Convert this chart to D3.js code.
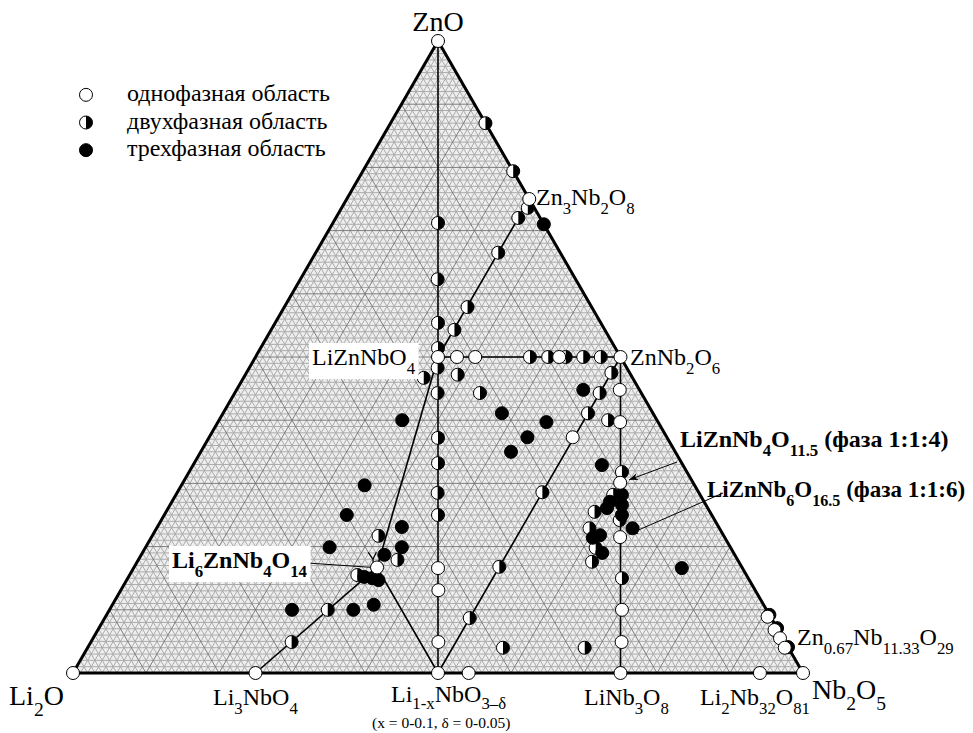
<!DOCTYPE html>
<html lang="ru">
<head>
<meta charset="UTF-8">
<title>Li2O - ZnO - Nb2O5</title>
<script src="https://d3js.org/d3.v7.min.js"></script>
<style>
  body { margin: 0; background: #fff; }
  svg text { font-family: "Liberation Serif", "DejaVu Serif", "Times New Roman", serif; fill: #000; }
</style>
</head>
<body>
<svg id="chart" width="973" height="733"></svg>
<script>
// compositions in mol %: [Li2O, ZnO, Nb2O5]
var singlePhase = [
  [100, 0, 0], [0, 0, 100], [0, 100, 0],
  [75, 0, 25], [50, 0, 50], [45.8, 0, 54.2], [25, 0, 75], [5.9, 0, 94.1],
  [0, 75, 25], [0, 50, 50], [25, 50, 25], [50, 16.7, 33.3],
  [10, 30.1, 59.9], [14.3, 21.5, 64.2],
  [22.4, 50, 27.6], [19.9, 50, 30.1], [8.4, 50, 41.6],
  [2.7, 44.8, 52.5], [5.2, 39.7, 55.1],
  [41.7, 16.6, 41.7], [43.4, 13.1, 43.5], [47.5, 4.9, 47.6],
  [19.8, 10, 70.2], [22.4, 4.9, 72.7], [12.9, 37.3, 49.8],
  [0.4, 8.9, 90.7], [0.5, 6.8, 92.7], [0.4, 5.5, 94.1], [0.5, 4.0, 95.5]
];
var twoPhase = [
  [0, 87, 13], [0, 79.4, 20.6], [0.9, 73.6, 25.5], [3, 72, 25],
  [8.5, 66.5, 25], [17, 57.9, 25.1], [20.6, 54.3, 25.1],
  [14.4, 71.2, 14.4], [18.9, 62.3, 18.8], [22.3, 55.4, 22.3], [24.3, 51.4, 24.3],
  [25.9, 48.3, 25.8], [27.9, 44.3, 27.8], [31.4, 37.2, 31.4], [33.4, 33.2, 33.4],
  [35.8, 28.5, 35.7], [37.5, 25, 37.5],
  [12.4, 50, 37.6], [9.9, 50, 40.1], [7.5, 50, 42.5], [5.1, 50, 44.9], [2.7, 50, 47.3],
  [28.6, 46.7, 24.7], [23.7, 47.2, 29.1], [22.1, 44.3, 33.6],
  [2.5, 47.5, 50], [5.7, 44.3, 50], [8.9, 41.1, 50], [21.4, 28.6, 50], [33.2, 16.8, 50], [41.3, 8.7, 50],
  [6.7, 40, 53.3], [8.9, 31.8, 59.3],
  [47.3, 21.7, 31], [46.6, 17.9, 35.5], [53.3, 15.5, 31.2], [60.1, 10, 29.9], [67.6, 4.9, 27.5],
  [17.3, 15, 67.7], [20.1, 17.6, 62.3], [39.1, 4, 56.9], [27.9, 4, 68.1],
  [15.8, 25.5, 58.7], [17.8, 22.9, 59.3], [11.9, 28.2, 59.9], [13, 24.2, 62.8], [18.5, 19.8, 61.7]
];
var threePhase = [
  [0, 71, 29], [0, 9.2, 90.8], [0, 7.1, 92.9], [0, 4.1, 95.9],
  [34.9, 40, 25.1], [20.7, 41.1, 38.2], [15.3, 39.7, 45], [19.1, 37.3, 43.6],
  [22.5, 35, 42.5], [7.7, 44.8, 47.5], [11.1, 32.9, 56], [11.9, 22.9, 65.2], [8.3, 16.6, 75.1],
  [12.9, 27.1, 60], [13.8, 26.1, 60.1], [16.9, 21.8, 61.3], [18.1, 21.4, 60.5],
  [10.7, 28.2, 61.1], [11.5, 26.6, 61.9], [12.3, 25, 62.7], [18, 19, 63],
  [45.2, 29.7, 25.1], [50, 25, 25], [43.4, 23.1, 33.5], [54.9, 19.9, 25.2],
  [45, 19.9, 35.1], [48, 18.7, 33.3], [51.5, 15, 33.5], [52.5, 15.2, 32.3], [50.8, 14.7, 34.5],
  [65, 10, 25], [56.6, 10, 33.4], [53.4, 10.8, 35.8]
];
// tie lines between phases
var joins = [
  [[0, 100, 0], [50, 0, 50]],
  [[25, 50, 25], [0, 50, 50]],
  [[0, 75, 25], [25, 50, 25]],
  [[0, 50, 50], [50, 0, 50]],
  [[0, 50, 50], [25, 0, 75]],
  [[25, 50, 25], [50, 16.7, 33.3]],
  [[75, 0, 25], [50, 16.7, 33.3]],
  [[50, 16.7, 33.3], [50, 0, 50]]
];
// small "Y" tick above the Li6ZnNb4O14 point
var yTick = [
  [[50, 19.1, 30.9], [49.9, 18, 32.1]],
  [[48.9, 19.1, 32], [49.9, 18, 32.1]],
  [[49.9, 18, 32.1], [50.2, 17.4, 32.4]]
];
var legendItems = [
  ["single", "однофазная область"],
  ["two", "двухфазная область"],
  ["three", "трехфазная область"]
];

var svg = d3.select("#chart");
var xScale = d3.scaleLinear().domain([0, 100]).range([73, 803]);
var yScale = d3.scaleLinear().domain([0, 100]).range([673, 41]);
function px(c) { return xScale(c[2] + c[1] / 2); }
function py(c) { return yScale(c[1]); }

// background grid: fine 1 % mesh, then 10 % lines
var fine = [], major = [];
for (var i = 1; i < 100; i++) {
  var set = (i % 10 === 0) ? major : fine;
  set.push([[100 - i, i, 0], [0, i, 100 - i]]);
  set.push([[100 - i, 0, i], [0, 100 - i, i]]);
  set.push([[i, 100 - i, 0], [i, 0, 100 - i]]);
}
var corners = [[100, 0, 0], [0, 0, 100], [0, 100, 0]];
svg.append("polygon")
  .attr("points", corners.map(function(c) { return px(c) + "," + py(c); }).join(" "))
  .attr("fill", "#eeeeee");

function drawLines(data, color, w) {
  svg.append("g").selectAll("line").data(data).enter().append("line")
    .attr("x1", function(d) { return px(d[0]); })
    .attr("y1", function(d) { return py(d[0]); })
    .attr("x2", function(d) { return px(d[1]); })
    .attr("y2", function(d) { return py(d[1]); })
    .attr("stroke", color).attr("stroke-width", w);
}
drawLines(fine, "#ababab", 1);
drawLines(major, "#707070", 0.9);
drawLines(joins, "#000", 1.6);

svg.append("polygon")
  .attr("points", corners.map(function(c) { return px(c) + "," + py(c); }).join(" "))
  .attr("fill", "none").attr("stroke", "#000").attr("stroke-width", 3);

// label pointers
var pointers = [
  [677, 462, [10, 30.1, 59.9], true],
  [723, 493, [14.3, 21.5, 64.2], true],
  [307, 563, [50, 16.7, 33.3], false]
];
svg.append("defs").append("marker")
  .attr("id", "arr").attr("viewBox", "0 0 10 10").attr("refX", 10).attr("refY", 5)
  .attr("markerWidth", 9).attr("markerHeight", 9).attr("orient", "auto")
  .append("path").attr("d", "M0,1 L10,5 L0,9 L3,5 Z").attr("fill", "#000");

var R = 6.5;
function marker(g, x, y, kind) {
  g.append("circle").attr("cx", x).attr("cy", y).attr("r", R)
    .attr("fill", kind === "three" ? "#000" : "#fff")
    .attr("stroke", "#000").attr("stroke-width", 1);
  if (kind === "two") {
    g.append("path")
      .attr("d", "M" + x + "," + (y - R) + " A" + R + "," + R + " 0 0 1 " + x + "," + (y + R) + " Z")
      .attr("fill", "#000");
  }
}
var pts = svg.append("g");
twoPhase.forEach(function(c) { marker(pts, px(c), py(c), "two"); });
threePhase.forEach(function(c) { marker(pts, px(c), py(c), "three"); });
singlePhase.forEach(function(c) { marker(pts, px(c), py(c), "single"); });

// formula labels: parts are [text, isSubscript]
function label(x, y, parts, size, opts) {
  opts = opts || {};
  var drop = opts.drop || 0.38;
  var t = svg.append("text").attr("x", x).attr("y", y)
    .attr("font-size", size).attr("text-anchor", opts.anchor || "start")
    .attr("font-weight", opts.bold ? "bold" : "normal");
  var shift = 0;
  parts.forEach(function(p) {
    var sub = p[1];
    var dy = sub ? size * drop - shift : -shift;
    shift = sub ? size * drop : 0;
    t.append("tspan").attr("dy", dy).attr("font-size", sub ? size * 0.7 : size).text(p[0]);
  });
  return t;
}
function boxed(x, y, parts, size, opts) {
  var t = label(x, y, parts, size, opts);
  var b = t.node().getBBox();
  svg.insert("rect", "text").attr("x", b.x - 3).attr("y", b.y - 1)
    .attr("width", b.width + 6).attr("height", b.height + 2).attr("fill", "#fff");
  t.raise();
}

pointers.forEach(function(p) {
  svg.append("line").attr("x1", p[0]).attr("y1", p[1])
    .attr("x2", px(p[2]) + (p[3] ? 9 : -4)).attr("y2", py(p[2]) + (p[3] ? -3 : 0))
    .attr("stroke", "#000").attr("stroke-width", 1)
    .attr("marker-end", p[3] ? "url(#arr)" : null);
});
drawLines(yTick, "#000", 1.2);
pts.raise();

label(438, 31, [["ZnO", 0]], 28, { anchor: "middle" });
label(9, 705, [["Li", 0], ["2", 1], ["O", 0]], 28);
label(812, 699, [["Nb", 0], ["2", 1], ["O", 0], ["5", 1]], 28);
label(213, 705, [["Li", 0], ["3", 1], ["NbO", 0], ["4", 1]], 24);
label(391, 702, [["Li", 0], ["1-x", 1], ["NbO", 0], ["3–δ", 1]], 24, { drop: 0.3 });
label(372, 728, [["(x = 0-0.1, δ = 0-0.05)", 0]], 15.5);
label(584, 705, [["LiNb", 0], ["3", 1], ["O", 0], ["8", 1]], 24);
label(700, 705, [["Li", 0], ["2", 1], ["Nb", 0], ["32", 1], ["O", 0], ["81", 1]], 24);
label(797, 645, [["Zn", 0], ["0.67", 1], ["Nb", 0], ["11.33", 1], ["O", 0], ["29", 1]], 24);
label(536, 205, [["Zn", 0], ["3", 1], ["Nb", 0], ["2", 1], ["O", 0], ["8", 1]], 24);
label(630, 365, [["ZnNb", 0], ["2", 1], ["O", 0], ["6", 1]], 24);
boxed(312, 365, [["LiZnNbO", 0], ["4", 1]], 24);
label(680, 447, [["LiZnNb", 0], ["4", 1], ["O", 0], ["11.5", 1], [" (фаза 1:1:4)", 0]], 24, { bold: true });
label(707, 497, [["LiZnNb", 0], ["6", 1], ["O", 0], ["16.5", 1], [" (фаза 1:1:6)", 0]], 23, { bold: true });
boxed(172, 568, [["Li", 0], ["6", 1], ["ZnNb", 0], ["4", 1], ["O", 0], ["14", 1]], 24, { bold: true });

// legend
var legY = d3.scaleBand().domain(legendItems.map(function(d) { return d[0]; })).range([81, 164]);
var leg = svg.append("g");
legendItems.forEach(function(d) {
  var y = legY(d[0]) + legY.bandwidth() / 2;
  marker(leg, 86, y, d[0]);
  leg.append("text").attr("x", 127).attr("y", y + 6).attr("font-size", 24).text(d[1]);
});
</script>
</body>
</html>
